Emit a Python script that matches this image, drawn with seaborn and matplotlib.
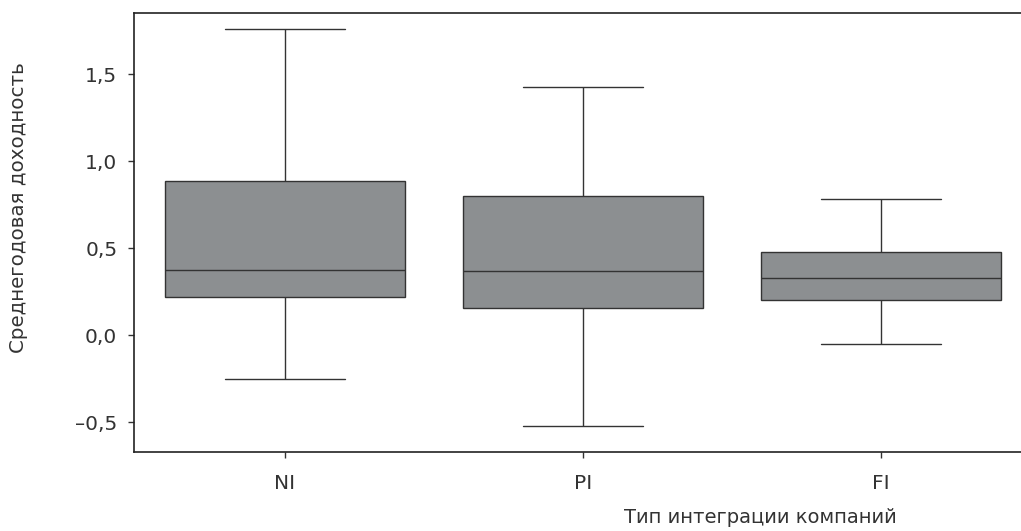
import numpy as np
import pandas as pd
import matplotlib
matplotlib.use("Agg")
import matplotlib.pyplot as plt
from matplotlib.ticker import FuncFormatter
import seaborn as sns

# five-number summaries: min, Q1, median, Q3, max
groups = ["NI", "PI", "FI"]
ni_vals = [-0.255, 0.220, 0.375, 0.887, 1.759]
pi_vals = [-0.525, 0.155, 0.370, 0.801, 1.427]
fi_vals = [-0.050, 0.201, 0.329, 0.479, 0.782]
y_ticks = [-0.5, 0.0, 0.5, 1.0, 1.5]

df = pd.DataFrame({
    "group": np.repeat(groups, 5),
    "value": ni_vals + pi_vals + fi_vals,
})

sns.set_style("white")
plt.rcParams["font.family"] = ["DejaVu Sans"]

fig = plt.figure(figsize=(10.21, 5.31), dpi=100)
ax = fig.add_axes([134 / 1021, 1 - 452 / 531, 1 - 134 / 1021, (452 - 13) / 531])

sns.boxplot(data=df, x="group", y="value", order=groups, ax=ax,
            color="#8c8f91", saturation=1, width=0.805, whis=(0, 100),
            showfliers=False, linecolor="#333333", linewidth=1.0)

ax.set_xlim(-0.507, 2.47)
ax.set_ylim(-0.672, 1.851)
ax.set_yticks(y_ticks)
ax.yaxis.set_major_formatter(FuncFormatter(
    lambda v, p: f"{v:.1f}".replace(".", ",").replace("-", "–")))

for side in ["left", "bottom", "top"]:
    ax.spines[side].set_visible(True)
    ax.spines[side].set_color("#222222")
    ax.spines[side].set_linewidth(1.2)
ax.spines["right"].set_visible(False)

ax.tick_params(axis="both", direction="out", length=4, width=1.0,
               bottom=True, left=True, top=False, right=False,
               color="#333333", labelsize=14.5, labelcolor="#333333", pad=8)
ax.tick_params(axis="x", pad=12)

ax.set_ylabel("Среднегодовая доходность", fontsize=14.3, color="#333333")
ax.yaxis.set_label_coords(-0.119, 0.556)
ax.set_xlabel("Тип интеграции компаний", fontsize=14, color="#333333")
ax.xaxis.set_label_coords(0.706, -0.128)

fig.savefig("out.png", dpi=100)
